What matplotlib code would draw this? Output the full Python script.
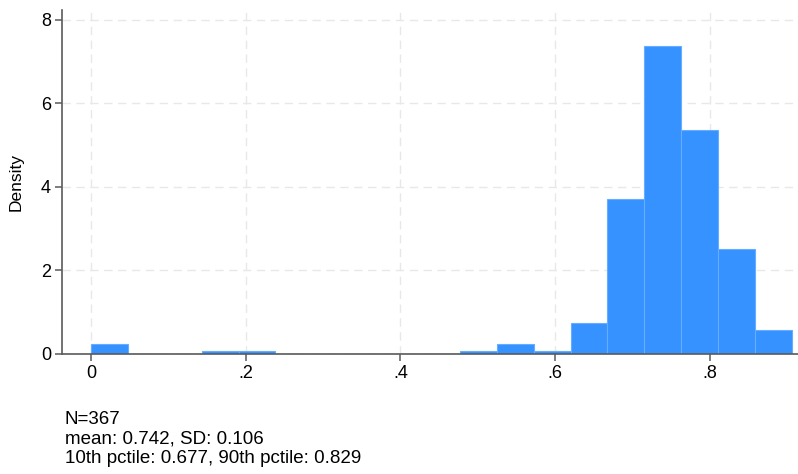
import matplotlib.pyplot as plt
import numpy as np

plt.rcParams["font.family"] = ["Liberation Sans", "DejaVu Sans"]

# 19 equal-width bins from 0 to the sample max, heights as densities
n_bins = 19
x_min, x_max = 0.0, 0.906
density = [0.229, 0, 0, 0.057, 0.057, 0, 0, 0, 0, 0,
           0.057, 0.229, 0.057, 0.743, 3.715, 7.37, 5.37, 2.51, 0.571]

x_ticks = [0, 0.2, 0.4, 0.6, 0.8]
x_tick_labels = ["0", ".2", ".4", ".6", ".8"]
y_ticks = [0, 2, 4, 6, 8]

note_lines = [
    "N=367",
    "mean: 0.742, SD: 0.106",
    "10th pctile: 0.677, 90th pctile: 0.829",
]

edges = np.linspace(x_min, x_max, n_bins + 1)
widths = np.diff(edges)

fig = plt.figure(figsize=(7.98, 4.74), dpi=100)
ax = fig.add_axes([0.0777, 0.2538, 0.9223, 0.7252])

ax.bar(edges[:-1], density, width=widths, align="edge",
       color="#3592ff", edgecolor="#66adff", linewidth=0.8, zorder=2)

ax.set_xlim(-0.0375, 0.914)
ax.set_ylim(0, 8.24)

ax.set_xticks(x_ticks)
ax.set_xticklabels(x_tick_labels)
ax.set_yticks(y_ticks)

ax.grid(True, color="#e8e8e8", linestyle=(0, (6, 4)), linewidth=1.0, zorder=0)

for side in ["top", "right"]:
    ax.spines[side].set_visible(False)
for side in ["left", "bottom"]:
    ax.spines[side].set_color("#5a5a5a")
    ax.spines[side].set_linewidth(1.2)

ax.tick_params(axis="both", direction="out", length=5, width=1.1,
               color="#5a5a5a", labelsize=13, pad=3)
ax.set_ylabel("Density", fontsize=12.5, labelpad=12)

for i, line in enumerate(note_lines):
    fig.text(65 / 798, 1 - (420 + i * 19.3) / 474, line,
             fontsize=13.5, va="center", ha="left")

plt.savefig("out.png", dpi=100)
